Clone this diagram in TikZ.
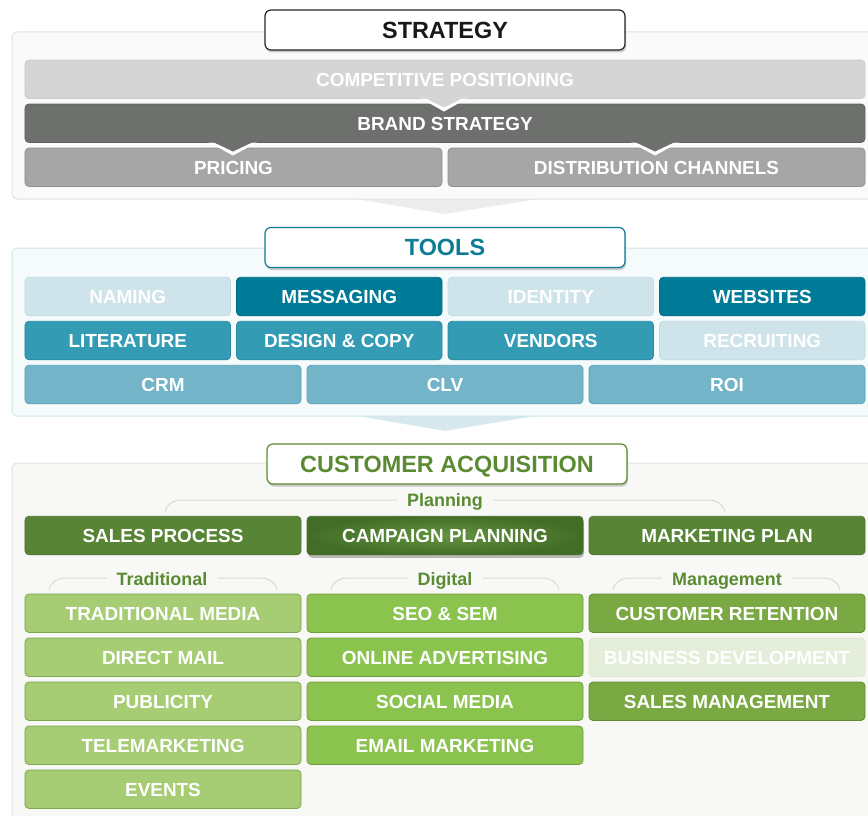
\documentclass[tikz,border=0pt]{standalone}
\usepackage{fontspec}
\setmainfont{Liberation Sans}
\usepackage{tikz}
\usetikzlibrary{positioning}
\usetikzlibrary{shadows}

\definecolor{strpanel}{HTML}{FAFAFA}
\definecolor{strline}{HTML}{E2E2E2}
\definecolor{strarrow}{HTML}{ECECEC}
\definecolor{cpgray}{HTML}{D4D5D4}
\definecolor{cpedge}{HTML}{CACBCA}
\definecolor{bsgray}{HTML}{6E706E}
\definecolor{bsedge}{HTML}{616361}
\definecolor{pgray}{HTML}{A5A6A5}
\definecolor{pedge}{HTML}{8E8F8E}
\definecolor{toolpanel}{HTML}{F5FAFB}
\definecolor{toolline}{HTML}{D0E6EC}
\definecolor{toolarrow}{HTML}{D7E9EF}
\definecolor{tealtext}{HTML}{0D7B94}
\definecolor{tealpale}{HTML}{CFE4EA}
\definecolor{tealpaleedge}{HTML}{C2DCE4}
\definecolor{tealdark}{HTML}{007B97}
\definecolor{tealdarkedge}{HTML}{006A83}
\definecolor{tealmid}{HTML}{349BB5}
\definecolor{tealmidedge}{HTML}{2A88A0}
\definecolor{teallight}{HTML}{73B4C8}
\definecolor{teallightedge}{HTML}{5AA2B8}
\definecolor{acqpanel}{HTML}{F8F8F6}
\definecolor{acqline}{HTML}{E4E4E0}
\definecolor{brkgray}{HTML}{D9D9D5}
\definecolor{greentext}{HTML}{5A8B32}
\definecolor{planfill}{HTML}{578535}
\definecolor{planedge}{HTML}{4A7530}
\definecolor{campin}{HTML}{64943F}
\definecolor{campout}{HTML}{426D27}
\definecolor{tradfill}{HTML}{A6CD73}
\definecolor{tradedge}{HTML}{7EA552}
\definecolor{digifill}{HTML}{8BC34F}
\definecolor{digiedge}{HTML}{6F9E3A}
\definecolor{mgmtfill}{HTML}{7AA943}
\definecolor{mgmtedge}{HTML}{5F8C33}
\definecolor{bizfill}{HTML}{E5EEDB}
\definecolor{bizedge}{HTML}{DCE7D1}

\begin{document}
\begin{tikzpicture}[x=1bp, y=-1bp, node distance=5.5bp and 6bp,
  btn/.style={draw, line width=0.8bp, rounded corners=4bp, minimum height=38.5bp, inner sep=0pt, outer sep=0pt, text=white, text height=13.6bp, text depth=0bp, font=\bfseries\fontsize{19}{20}\selectfont},
  wfull/.style={btn, minimum width=840bp},
  whalf/.style={btn, minimum width=417bp},
  wthird/.style={btn, minimum width=276bp},
  wquart/.style={btn, minimum width=205.5bp},
  headbox/.style={draw, fill=white, line width=1.2bp, rounded corners=6bp, minimum width=360bp, minimum height=40bp, inner sep=0pt, text height=16.8bp, text depth=0bp, font=\bfseries\fontsize{23.5}{26}\selectfont, drop shadow={shadow xshift=1bp, shadow yshift=-2.5bp, opacity=0.4}},
  sectionpanel/.style={rounded corners=5bp, line width=1bp},
  grplabel/.style={font=\bfseries\fontsize{18}{20}\selectfont, text=greentext, inner sep=0pt, anchor=base},
  brk/.style={draw=brkgray, line width=1bp}
]
\clip (0,0) rectangle (868,816);

% strategy
\fill[strarrow] (357,199) -- (445,214) -- (537,199) -- cycle;
\draw[sectionpanel, fill=strpanel, draw=strline] (12,32) rectangle (890,199);
\node[headbox, draw=black!85, text=black!90] (strat) at (445,30) {STRATEGY};

\node[wfull, fill=cpgray, draw=cpedge] (comp) at (445,79.25) {COMPETITIVE POSITIONING};
\node[wfull, fill=bsgray, draw=bsedge, below=of comp] (brand) {BRAND STRATEGY};
\node[whalf, fill=pgray, draw=pedge, below right=5.5bp and 0bp of brand.south west] (pricing) {PRICING};
\node[whalf, fill=pgray, draw=pedge, right=of pricing] (distrib) {DISTRIBUTION CHANNELS};

\fill[white] (421,98.5) -- (444,111.5) -- (467,98.5) -- cycle;
\fill[cpgray] (425,98) -- (444,107.5) -- (463,98) -- cycle;
\fill[white] (209,142.5) -- (233,155.5) -- (257,142.5) -- cycle;
\fill[bsgray] (213,142) -- (233,151.5) -- (253,142) -- cycle;
\fill[white] (631,142.5) -- (655,155.5) -- (679,142.5) -- cycle;
\fill[bsgray] (635,142) -- (655,151.5) -- (675,142) -- cycle;

% tools
\fill[toolarrow] (358,416) -- (445,431) -- (535,416) -- cycle;
\draw[sectionpanel, fill=toolpanel, draw=toolline] (12,248) rectangle (890,416);
\node[headbox, draw=tealtext, text=tealtext] (tools) at (445,247.5) {TOOLS};

\node[wquart, fill=tealpale, draw=tealpaleedge] (naming) at (127.75,296.5) {NAMING};
\node[wquart, fill=tealdark, draw=tealdarkedge, right=of naming] (msg) {MESSAGING};
\node[wquart, fill=tealpale, draw=tealpaleedge, right=of msg] (ident) {IDENTITY};
\node[wquart, fill=tealdark, draw=tealdarkedge, right=of ident] (web) {WEBSITES};
\node[wquart, fill=tealmid, draw=tealmidedge, below=of naming] (lit) {LITERATURE};
\node[wquart, fill=tealmid, draw=tealmidedge, right=of lit] (design) {DESIGN \& COPY};
\node[wquart, fill=tealmid, draw=tealmidedge, right=of design] (vendors) {VENDORS};
\node[wquart, fill=tealpale, draw=tealpaleedge, right=of vendors] (recruit) {RECRUITING};
\node[wthird, fill=teallight, draw=teallightedge, below right=5.5bp and 0bp of lit.south west] (crm) {CRM};
\node[wthird, fill=teallight, draw=teallightedge, right=of crm] (clv) {CLV};
\node[wthird, fill=teallight, draw=teallightedge, right=of clv] (roi) {ROI};

% customer acquisition
\draw[sectionpanel, fill=acqpanel, draw=acqline] (12,463) rectangle (890,840);
\node[headbox, draw=greentext, text=greentext] (acq) at (447,464) {CUSTOMER ACQUISITION};

\node[grplabel] (plan) at (445,506) {Planning};
\draw[brk] (165,512) to[out=80,in=180] (182,500) -- ([shift={(-10bp,6bp)}]plan.base west);
\draw[brk] (725,512) to[out=100,in=0] (708,500) -- ([shift={(10bp,6bp)}]plan.base east);

\node[wthird, fill=planfill, draw=planedge] (sales) at (163,535.5) {SALES PROCESS};
\node[wthird, draw=campout, shading=radial, inner color=campin, outer color=campout, right=of sales,
  drop shadow={shadow xshift=1bp, shadow yshift=-3bp, opacity=0.55}] (campaign) {CAMPAIGN PLANNING};
\node[wthird, fill=planfill, draw=planedge, right=of campaign] (mplan) {MARKETING PLAN};

\node[grplabel] (trad) at (162,585) {Traditional};
\draw[brk] (49,590) to[out=80,in=180] (66,578) -- ([shift={(-10bp,7bp)}]trad.base west);
\draw[brk] (277,590) to[out=100,in=0] (260,578) -- ([shift={(10bp,7bp)}]trad.base east);
\node[grplabel] (digi) at (445,585) {Digital};
\draw[brk] (331,590) to[out=80,in=180] (348,578) -- ([shift={(-10bp,7bp)}]digi.base west);
\draw[brk] (559,590) to[out=100,in=0] (542,578) -- ([shift={(10bp,7bp)}]digi.base east);
\node[grplabel] (mgmt) at (727,585) {Management};
\draw[brk] (613,590) to[out=80,in=180] (630,578) -- ([shift={(-10bp,7bp)}]mgmt.base west);
\draw[brk] (840,590) to[out=100,in=0] (823,578) -- ([shift={(10bp,7bp)}]mgmt.base east);

\node[wthird, fill=tradfill, draw=tradedge] (tradmedia) at (163,613.25) {TRADITIONAL MEDIA};
\node[wthird, fill=tradfill, draw=tradedge, below=of tradmedia] (dmail) {DIRECT MAIL};
\node[wthird, fill=tradfill, draw=tradedge, below=of dmail] (publicity) {PUBLICITY};
\node[wthird, fill=tradfill, draw=tradedge, below=of publicity] (tele) {TELEMARKETING};
\node[wthird, fill=tradfill, draw=tradedge, below=of tele] (events) {EVENTS};

\node[wthird, fill=digifill, draw=digiedge, right=of tradmedia] (seo) {SEO \& SEM};
\node[wthird, fill=digifill, draw=digiedge, below=of seo] (online) {ONLINE ADVERTISING};
\node[wthird, fill=digifill, draw=digiedge, below=of online] (social) {SOCIAL MEDIA};
\node[wthird, fill=digifill, draw=digiedge, below=of social] (email) {EMAIL MARKETING};

\node[wthird, fill=mgmtfill, draw=mgmtedge, right=of seo] (retention) {CUSTOMER RETENTION};
\node[wthird, fill=bizfill, draw=bizedge, below=of retention] (bizdev) {BUSINESS DEVELOPMENT};
\node[wthird, fill=mgmtfill, draw=mgmtedge, below=of bizdev] (salesmgmt) {SALES MANAGEMENT};
\end{tikzpicture}
\end{document}
